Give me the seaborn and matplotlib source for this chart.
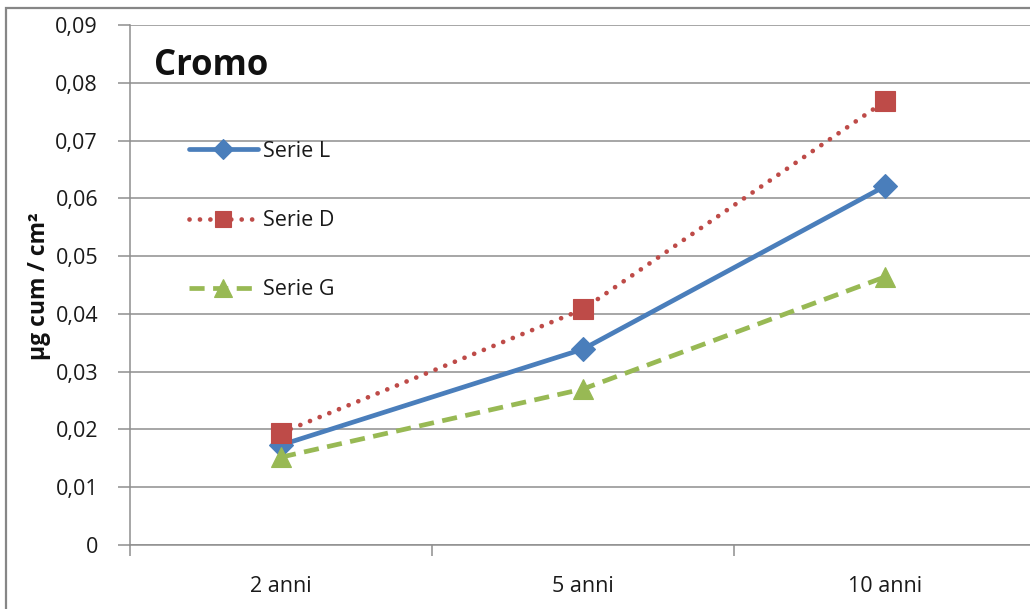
import matplotlib
matplotlib.use("Agg")
import matplotlib.pyplot as plt
import matplotlib.patches as mpatches
from matplotlib.ticker import FixedLocator, FuncFormatter
import numpy as np
import pandas as pd
import seaborn as sns

# Chromium release, cumulative (µg/cm²)
periods = ["2 anni", "5 anni", "10 anni"]
serie_l = [0.0173, 0.0339, 0.0621]
serie_d = [0.0194, 0.0408, 0.0768]
serie_g = [0.0152, 0.0270, 0.0464]
y_ticks = [0.0, 0.01, 0.02, 0.03, 0.04, 0.05, 0.06, 0.07, 0.08, 0.09]

sns.set_theme(style="white")
plt.rcParams["font.family"] = ["Open Sans", "DejaVu Sans"]

W, H = 1030, 609
fig = plt.figure(figsize=(W / 100, H / 100), dpi=100)
fig.patch.set_facecolor("white")

# plot area: left axis at x=130, zero line at y=545, top gridline at y=25
ax = fig.add_axes([130 / W, 1 - 545 / H, 906 / W, 520 / H])
ax.set_facecolor("white")

df = pd.DataFrame({
    "pos": np.arange(len(periods)),
    "Serie L": serie_l,
    "Serie D": serie_d,
    "Serie G": serie_g,
})

grid_col = "#8e8e8e"
for v in y_ticks:
    ax.axhline(v, color=grid_col, lw=1.1, zorder=0)

styles = {
    "Serie L": dict(color="#4a7ebb", marker="D", markersize=12,
                    linestyle="-"),
    "Serie D": dict(color="#be4b48", marker="s", markersize=14,
                    linestyle=(0, (0.01, 2.2))),
    "Serie G": dict(color="#98b954", marker="^", markersize=15,
                    linestyle=(0, (3.2, 1.8))),
}

for name in ["Serie L", "Serie D", "Serie G"]:
    st = styles[name]
    sns.lineplot(data=df, x="pos", y=name, ax=ax, label=name,
                 color=st["color"], marker=st["marker"],
                 markersize=st["markersize"], markeredgecolor=st["color"],
                 markerfacecolor=st["color"], markeredgewidth=0.8,
                 linewidth=3.4, linestyle=st["linestyle"],
                 dash_capstyle="round" if name == "Serie D" else "butt",
                 solid_capstyle="round", zorder=3, clip_on=False)

ax.set_xlim(-0.5, 2.5)
ax.set_ylim(0, 0.09)

# y axis
ax.yaxis.set_major_locator(FixedLocator(y_ticks))
ax.yaxis.set_major_formatter(FuncFormatter(
    lambda v, p: "0" if abs(v) < 1e-12 else f"{v:.2f}".replace(".", ",")))
ax.tick_params(axis="y", which="major", length=9, width=1.1, color=grid_col,
               pad=14, labelsize=15.5, labelcolor="#1a1a1a", direction="out",
               left=True)

# x axis: ticks at category boundaries, labels at centres
ax.xaxis.set_major_locator(FixedLocator([-0.5, 0.5, 1.5, 2.5]))
ax.xaxis.set_major_formatter(FuncFormatter(lambda v, p: ""))
ax.xaxis.set_minor_locator(FixedLocator(df["pos"].tolist()))
ax.xaxis.set_minor_formatter(FuncFormatter(lambda v, p: periods[int(round(v))]))
ax.tick_params(axis="x", which="major", length=8, width=1.1, color=grid_col,
               direction="out", bottom=True)
ax.tick_params(axis="x", which="minor", length=0, pad=22, labelsize=15.5,
               labelcolor="#1a1a1a", bottom=True)

for side in ["top", "right"]:
    ax.spines[side].set_visible(False)
for side in ["left", "bottom"]:
    ax.spines[side].set_color(grid_col)
    ax.spines[side].set_linewidth(1.1)
ax.spines["left"].set_bounds(0, 0.09)
ax.spines["bottom"].set_bounds(-0.5, 2.5)

ax.set_xlabel("")
ax.set_ylabel("")

fig.text(39 / W, 1 - 286 / H, "µg cum / cm²", rotation=90, ha="center",
         va="center", fontsize=16.5, fontweight="bold", color="#111111")

fig.text(154 / W, 1 - 66 / H, "Cromo", ha="left", va="center",
         fontsize=25, fontweight="bold", color="#111111")

leg = ax.legend(loc="upper left", bbox_to_anchor=(189 / W, 1 - 141 / H),
                bbox_transform=fig.transFigure, frameon=False,
                fontsize=15.5, handlelength=3.2, handletextpad=0.25,
                labelspacing=2.24, borderaxespad=0, borderpad=0,
                markerscale=0.85)
for t in leg.get_texts():
    t.set_color("#1a1a1a")

# outer chart border
fig.patches.append(mpatches.Rectangle((6 / W, -0.1), 1.2, 1 - 8 / H + 0.1,
                                      transform=fig.transFigure, fill=False,
                                      edgecolor="#868686", linewidth=1.6,
                                      zorder=10))

fig.savefig("out.png", dpi=100)
